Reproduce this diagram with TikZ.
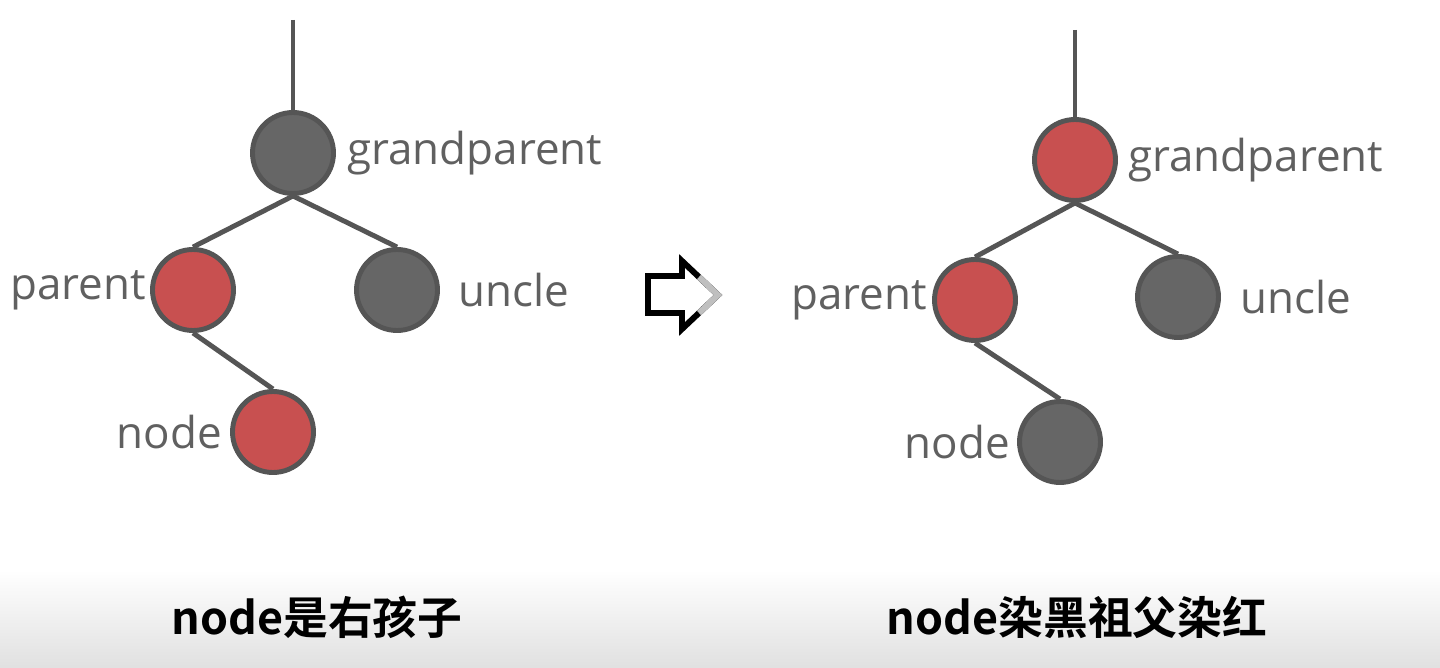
\documentclass[tikz,border=0pt]{standalone}
\usepackage{fontspec}
\setmainfont{Open Sans}
\newfontfamily\cjk{Noto Sans CJK SC Bold}
\usetikzlibrary{positioning}
\definecolor{nodegray}{HTML}{666666}
\definecolor{rimgray}{HTML}{555555}
\definecolor{nodered}{HTML}{C85050}
\definecolor{textgray}{HTML}{606060}
\tikzset{blacknode/.style = {circle, draw=rimgray, fill=nodegray, line width=2.8pt,
                             minimum size=1.62cm, inner sep=0pt},
         rednode/.style = {blacknode, fill=nodered},
         link/.style = {draw=rimgray, line width=2.8pt},
         lbl/.style = {text=textgray, inner sep=0pt, font=\fontsize{25}{25}\selectfont},
         caption/.style = {inner sep=0pt, font=\cjk\fontsize{25.5}{25.5}\selectfont}}

\begin{document}
\begin{tikzpicture}[x=0.02cm, y=-0.02cm]
    \useasboundingbox (0, 0) rectangle (1440, 668);
    \shade [top color=white, bottom color=black!12] (0, 570) rectangle (1440, 668);

    % before: node is the right child
    \coordinate (topL) at (293, 20);
    \node [blacknode] (gpL) at (293, 153) {};
    \node [rednode] (parL) at (193, 290) {};
    \node [blacknode] (uncL) at (397, 290) {};
    \node [rednode] (nodL) at (273, 432) {};
    \draw [link] (topL) -- (gpL.north);
    \draw [link] (gpL.south) -- (parL.north);
    \draw [link] (gpL.south) -- (uncL.north);
    \draw [link] (parL.south) -- (nodL.north);
    \node [lbl, right=0.22cm of gpL] {grandparent};
    \node [lbl, left=0.08cm of parL] {parent};
    \node [lbl, right=0.36cm of uncL] {uncle};
    \node [lbl, left=0.16cm of nodL] {node};

    % hollow arrow
    \draw [line width=3.4pt, line join=miter] (648, 276) -- (682, 276) -- (682, 261)
      -- (718, 295) -- (682, 329) -- (682, 313) -- (648, 313) -- cycle;
    \draw [line width=3.4pt, black!25] (699, 277) -- (718, 295) -- (699, 313);

    % after: recolour node and grandparent
    \coordinate (topR) at (1075, 30);
    \node [rednode] (gpR) at (1075, 160) {};
    \node [rednode] (parR) at (975, 300) {};
    \node [blacknode] (uncR) at (1178, 297) {};
    \node [blacknode] (nodR) at (1060, 442) {};
    \draw [link] (topR) -- (gpR.north);
    \draw [link] (gpR.south) -- (parR.north);
    \draw [link] (gpR.south) -- (uncR.north);
    \draw [link] (parR.south) -- (nodR.north);
    \node [lbl, right=0.2cm of gpR] {grandparent};
    \node [lbl, left=0.1cm of parR] {parent};
    \node [lbl, right=0.38cm of uncR] {uncle};
    \node [lbl, left=0.14cm of nodR] {node};

    \node [caption] (capL) at (317, 617) {node是右孩子};
    \node [caption] (capR) at (1077, 617) {node染黑祖父染红};
\end{tikzpicture}
\end{document}
